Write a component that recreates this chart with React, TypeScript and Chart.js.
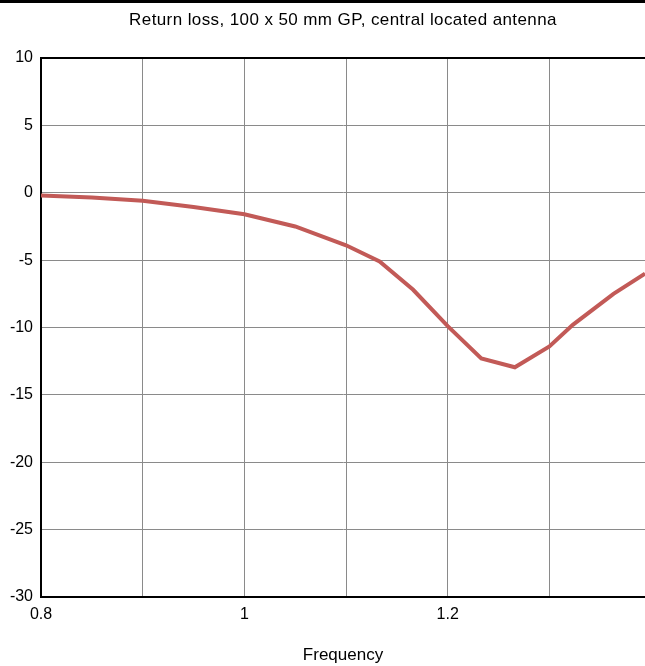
import React, { useEffect, useRef } from "react";
import { Chart, registerables } from "chart.js";

Chart.register(...registerables);

const titleText = "Return loss, 100 x 50 mm GP, central located antenna";
const xTitle = "Frequency";
const frequency = [0.8, 0.85, 0.9, 0.95, 1.0, 1.05, 1.1, 1.133, 1.166, 1.2, 1.233, 1.266, 1.3, 1.323, 1.363, 1.394];
const returnLoss = [-0.2, -0.35, -0.6, -1.05, -1.6, -2.5, -3.9, -5.1, -7.2, -9.9, -12.3, -12.95, -11.4, -9.8, -7.5, -6.0];
const xMin = 0.8;
const xMax = 1.394;
const yMin = -30;
const yMax = 10;

const FONT = "'Liberation Sans', Arial, sans-serif";

const decor = {
  id: "decor",
  afterDraw(chart: any) {
    const ctx = chart.ctx;
    const area = chart.chartArea;
    ctx.save();
    ctx.fillStyle = "#000";
    ctx.fillRect(0, 0, chart.width, 3);
    ctx.font = `17px ${FONT}`;
    try {
      (ctx as any).letterSpacing = "0.4px";
    } catch (e) {}
    ctx.textAlign = "center";
    ctx.textBaseline = "middle";
    ctx.fillText(titleText, (area.left + area.right) / 2, 20);
    ctx.restore();
  },
};

export default function App() {
  const ref = useRef<HTMLCanvasElement | null>(null);
  useEffect(() => {
    if (!ref.current) return;
    const chart = new Chart(ref.current, {
      type: "line",
      data: {
        datasets: [
          {
            data: frequency.map((f, i) => ({ x: f, y: returnLoss[i] })),
            borderColor: "#c25a57",
            borderWidth: 4,
            pointRadius: 0,
            tension: 0,
          },
        ],
      },
      plugins: [decor],
      options: {
        animation: false,
        responsive: false,
        maintainAspectRatio: false,
        layout: { padding: { left: 0, right: 0, top: 58, bottom: 0 } },
        plugins: {
          legend: { display: false },
          tooltip: { enabled: false },
          title: { display: false },
        },
        scales: {
          x: {
            type: "linear",
            min: xMin,
            max: xMax,
            afterFit: (s: any) => {
              s.height = 69;
            },
            ticks: {
              stepSize: 0.1,
              includeBounds: false,
              autoSkip: false,
              maxRotation: 0,
              padding: 8,
              color: "#000",
              font: { family: FONT, size: 16 },
              callback: (v: any) => {
                const n = Math.round(Number(v) * 10);
                return n % 2 === 0 ? String(n / 10) : "";
              },
            },
            grid: {
              drawTicks: false,
              color: "#8a8a8a",
              lineWidth: 1,
            },
            border: { color: "#000", width: 2 },
            title: {
              display: true,
              text: xTitle,
              color: "#000",
              font: { family: FONT, size: 17 },
              padding: { top: 22, bottom: 0 },
            },
          },
          y: {
            min: yMin,
            max: yMax,
            afterFit: (s: any) => {
              s.width = 41;
            },
            ticks: {
              stepSize: 5,
              padding: 8,
              color: "#000",
              font: { family: FONT, size: 16 },
            },
            grid: {
              drawTicks: false,
              color: (c: any) => (c.tick && c.tick.value === yMax ? "#000" : "#8a8a8a"),
              lineWidth: (c: any) => (c.tick && c.tick.value === yMax ? 2 : 1),
            },
            border: { color: "#000", width: 2 },
          },
        },
      },
    });
    return () => chart.destroy();
  }, []);
  return (
    <div style={{ position: "absolute", left: 0, top: 0, width: 645, height: 666, background: "#fff" }}>
      <canvas ref={ref} width={645} height={666} style={{ width: 645, height: 666, display: "block" }} />
    </div>
  );
}
